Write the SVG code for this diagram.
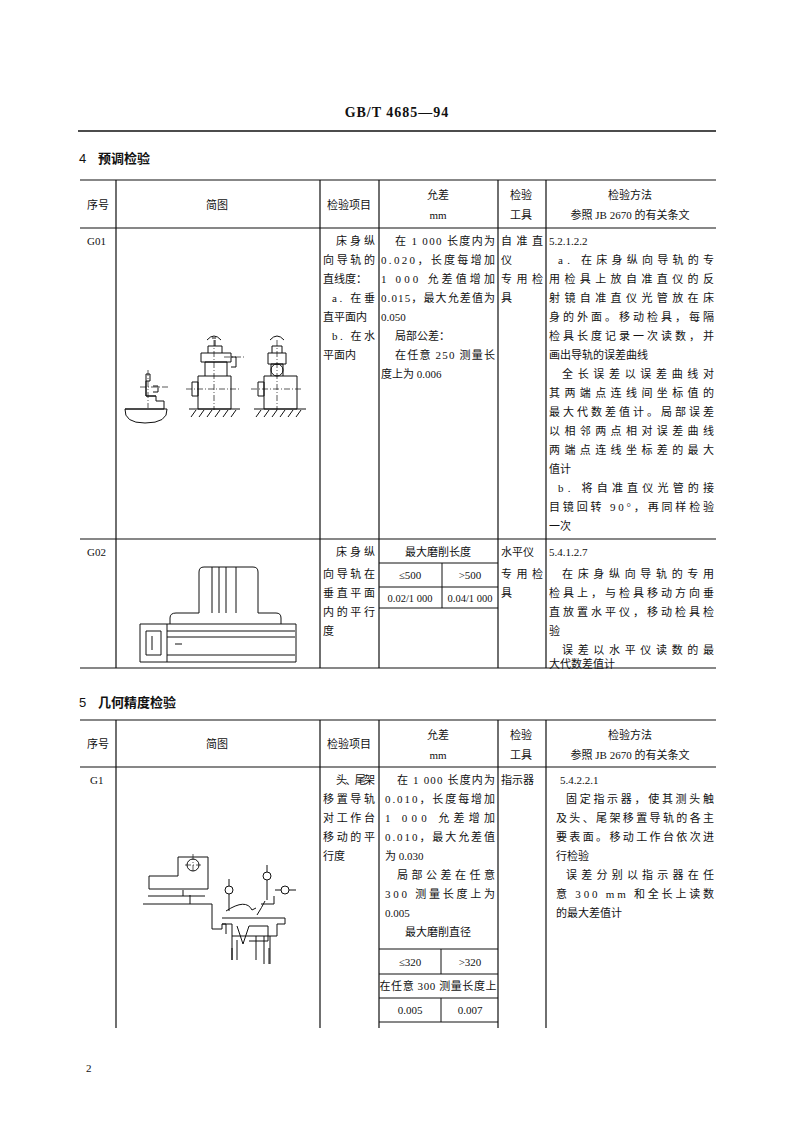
<svg xmlns="http://www.w3.org/2000/svg" width="794" height="1123" viewBox="0 0 794 1123">
<style>
text{font-family:"Liberation Serif","Noto Sans CJK SC",serif;font-size:11px;fill:#111}
.b{font-family:"Noto Sans CJK SC",sans-serif;font-weight:bold;font-size:13px}
.n{font-family:"Liberation Sans",sans-serif;font-size:13px}
.c{text-anchor:middle}
.t{stroke:#111;stroke-width:1.2;fill:none}
.d{stroke:#111;stroke-width:1;fill:none}
.dd{stroke:#111;stroke-width:0.7;fill:none;stroke-dasharray:6 2 1 2}
</style>
<rect width="794" height="1123" fill="#fff"/>
<text x="397" y="117" class="c" style="font-size:14px;font-weight:bold;letter-spacing:1px">GB/T 4685—94</text>
<path d="M78 131H716" stroke="#111" stroke-width="1.3"/>
<text x="79" y="163" class="n">4</text><text x="98" y="163" class="b">预调检验</text>
<text x="79" y="707" class="n">5</text><text x="98" y="707" class="b">几何精度检验</text>
<text x="86" y="1072">2</text>

<g id="table1">
<path class="t" d="M80 180H716M80 228H716M80 539H716M80 668H716M116 180V668M320 180V668M379 180V668M498 180V668M546 180V668"/>
<path class="d" d="M379 563H498M379 587H498M379 608H498M442 563V608"/>
<text x="98" y="209" class="c">序号</text><text x="217" y="209" class="c">简图</text><text x="349" y="209" class="c">检验项目</text>
<text x="438" y="199" class="c">允差</text><text x="438" y="219" class="c">mm</text>
<text x="521" y="199" class="c">检验</text><text x="521" y="219" class="c">工具</text>
<text x="630" y="199" class="c">检验方法</text><text x="630" y="219" class="c">参照 JB 2670 的有关条文</text>
</g>
<g id="G01">
<text x="87" y="245">G01</text>
<text x="336" y="245" textLength="39" lengthAdjust="spacing">床身纵</text>
<text x="323" y="264" textLength="52" lengthAdjust="spacing">向导轨的</text>
<text x="323" y="283">直线度：</text>
<text x="332" y="302" textLength="43" lengthAdjust="spacing">a. 在垂</text>
<text x="323" y="321">直平面内</text>
<text x="332" y="340" textLength="43" lengthAdjust="spacing">b. 在水</text>
<text x="323" y="359">平面内</text>
<text x="395" y="245" textLength="100" lengthAdjust="spacing">在 1 000 长度内为</text>
<text x="381" y="264" textLength="114" lengthAdjust="spacing">0.020，长度每增加</text>
<text x="381" y="283" textLength="114" lengthAdjust="spacing">1 000 允差值增加</text>
<text x="381" y="302" textLength="114" lengthAdjust="spacing">0.015，最大允差值为</text>
<text x="381" y="321">0.050</text>
<text x="395" y="340">局部公差：</text>
<text x="395" y="359" textLength="100" lengthAdjust="spacing">在任意 250 测量长</text>
<text x="381" y="378">度上为 0.006</text>
<text x="501" y="245" textLength="42" lengthAdjust="spacing">自准直</text>
<text x="501" y="264">仪</text>
<text x="501" y="283" textLength="42" lengthAdjust="spacing">专用检</text>
<text x="501" y="302">具</text>
<text x="549" y="245">5.2.1.2.2</text>
<text x="558" y="264" textLength="156" lengthAdjust="spacing">a. 在床身纵向导轨的专</text>
<text x="549" y="283" textLength="165" lengthAdjust="spacing">用检具上放自准直仪的反</text>
<text x="549" y="302" textLength="165" lengthAdjust="spacing">射镜自准直仪光管放在床</text>
<text x="549" y="321" textLength="165" lengthAdjust="spacing">身的外面。移动检具，每隔</text>
<text x="549" y="340" textLength="165" lengthAdjust="spacing">检具长度记录一次读数，并</text>
<text x="549" y="359">画出导轨的误差曲线</text>
<text x="562" y="378" textLength="152" lengthAdjust="spacing">全长误差以误差曲线对</text>
<text x="549" y="397" textLength="165" lengthAdjust="spacing">其两端点连线间坐标值的</text>
<text x="549" y="416" textLength="165" lengthAdjust="spacing">最大代数差值计。局部误差</text>
<text x="549" y="435" textLength="165" lengthAdjust="spacing">以相邻两点相对误差曲线</text>
<text x="549" y="454" textLength="165" lengthAdjust="spacing">两端点连线坐标差的最大</text>
<text x="549" y="473">值计</text>
<text x="558" y="492" textLength="156" lengthAdjust="spacing">b. 将自准直仪光管的接</text>
<text x="549" y="511" textLength="165" lengthAdjust="spacing">目镜回转 90°，再同样检验</text>
<text x="549" y="530">一次</text>
<g id="sketch1">
<path class="d" d="M125 409H164V401H156V396L146 396V381H150V374H146V396M146 396H156M153 386H158V392H153"/>
<path class="d" d="M125 409Q124 423 145 423Q168 423 167 409Z"/>
<path class="dd" d="M140 387H170M148 370V408"/>
<path class="d" d="M198 376H231V409H198ZM192 382H198V396H192ZM205 376V362H227V376M201 362H231V353H201ZM208 353V346H222V353M231 357H236V367H231M215 346V340"/>
<path class="dd" d="M186 389H240M214 340V410M224 357H246"/>
<path class="d" d="M189 409H240M191 417L196 410M199 417L204 410M207 417L212 410M215 417L220 410M223 417L228 410M231 417L236 410"/>
<path class="d" d="M207 340Q214 332 221 340M212 338L216 338"/>
<path class="d" d="M264 376H297V409H264ZM258 382H264V396H258ZM271 376V364H283V376M268 364H286V353H268ZM272 353V346H282V353"/>
<circle class="d" cx="277" cy="370" r="6"/>
<path class="dd" d="M251 389H303M277 340V410"/>
<path class="d" d="M254 409H306M256 417L261 410M264 417L269 410M272 417L277 410M280 417L285 410M288 417L293 410M296 417L301 410"/>
<path class="d" d="M270 340Q277 332 284 340"/>
</g>
</g>
<g id="G02">
<text x="87" y="556">G02</text>
<text x="336" y="556" textLength="39" lengthAdjust="spacing">床身纵</text>
<text x="323" y="578" textLength="52" lengthAdjust="spacing">向导轨在</text>
<text x="323" y="597" textLength="52" lengthAdjust="spacing">垂直平面</text>
<text x="323" y="616" textLength="52" lengthAdjust="spacing">内的平行</text>
<text x="323" y="635">度</text>
<text x="438" y="556" class="c">最大磨削长度</text>
<text x="410" y="579" class="c">≤500</text><text x="470" y="579" class="c">&gt;500</text>
<text x="410" y="602" class="c" style="font-size:10.5px">0.02/1 000</text><text x="470" y="602" class="c" style="font-size:10.5px">0.04/1 000</text>
<text x="501" y="556">水平仪</text>
<text x="501" y="578" textLength="42" lengthAdjust="spacing">专用检</text>
<text x="501" y="597">具</text>
<text x="549" y="556">5.4.1.2.7</text>
<text x="562" y="578" textLength="152" lengthAdjust="spacing">在床身纵向导轨的专用</text>
<text x="549" y="597" textLength="165" lengthAdjust="spacing">检具上，与检具移动方向垂</text>
<text x="549" y="616" textLength="165" lengthAdjust="spacing">直放置水平仪，移动检具检</text>
<text x="549" y="635">验</text>
<text x="562" y="654" textLength="152" lengthAdjust="spacing">误差以水平仪读数的最</text>
<text x="549" y="668">大代数差值计</text>
<g id="sketch2">
<path class="d" d="M140 624H167V662H140ZM146 631H161V655H146ZM152 636V650M167 624H296V662H167M167 631H295M167 637H295M167 655H295M175 644H182"/>
<path class="d" d="M170 624V618Q170 613 176 613H199V572Q199 567 204 567H253Q258 567 258 572V613H276Q281 613 281 618V624M212 567V613M219 567V613M226 567V613M236 567V613"/>
</g>
</g>

<g id="table2">
<path class="t" d="M80 720H716M80 767H716M116 720V1028M320 720V1028M379 720V1028M498 720V1028M546 720V1028"/>
<path class="d" d="M379 949H498M379 974H498M379 998H498M379 1022H498M441 949V974M441 998V1022"/>
<text x="98" y="748" class="c">序号</text><text x="217" y="748" class="c">简图</text><text x="349" y="748" class="c">检验项目</text>
<text x="438" y="739" class="c">允差</text><text x="438" y="759" class="c">mm</text>
<text x="521" y="739" class="c">检验</text><text x="521" y="759" class="c">工具</text>
<text x="630" y="739" class="c">检验方法</text><text x="630" y="759" class="c">参照 JB 2670 的有关条文</text>
</g>
<g id="G1">
<text x="90" y="784">G1</text>
<text x="336" y="784" textLength="39" lengthAdjust="spacing">头、尾架</text>
<text x="323" y="803" textLength="52" lengthAdjust="spacing">移置导轨</text>
<text x="323" y="822" textLength="52" lengthAdjust="spacing">对工作台</text>
<text x="323" y="841" textLength="52" lengthAdjust="spacing">移动的平</text>
<text x="323" y="860">行度</text>
<text x="397" y="784" textLength="98" lengthAdjust="spacing">在 1 000 长度内为</text>
<text x="385" y="803" textLength="110" lengthAdjust="spacing">0.010，长度每增加</text>
<text x="385" y="822" textLength="110" lengthAdjust="spacing">1 000 允差增加</text>
<text x="385" y="841" textLength="110" lengthAdjust="spacing">0.010，最大允差值</text>
<text x="385" y="860">为 0.030</text>
<text x="397" y="879" textLength="98" lengthAdjust="spacing">局部公差在任意</text>
<text x="385" y="898" textLength="110" lengthAdjust="spacing">300 测量长度上为</text>
<text x="385" y="917">0.005</text>
<text x="438" y="936" class="c">最大磨削直径</text>
<text x="410" y="966" class="c">≤320</text><text x="470" y="966" class="c">&gt;320</text>
<text x="438" y="990" class="c" textLength="117" lengthAdjust="spacing">在任意 300 测量长度上</text>
<text x="410" y="1014" class="c">0.005</text><text x="470" y="1014" class="c">0.007</text>
<text x="501" y="784">指示器</text>
<text x="560" y="784">5.4.2.2.1</text>
<text x="566" y="803" textLength="148" lengthAdjust="spacing">固定指示器，使其测头触</text>
<text x="556" y="822" textLength="158" lengthAdjust="spacing">及头、尾架移置导轨的各主</text>
<text x="556" y="841" textLength="158" lengthAdjust="spacing">要表面。移动工作台依次进</text>
<text x="556" y="860">行检验</text>
<text x="566" y="879" textLength="148" lengthAdjust="spacing">误差分别以指示器在任</text>
<text x="556" y="898" textLength="158" lengthAdjust="spacing">意 300 mm 和全长上读数</text>
<text x="556" y="917">的最大差值计</text>
<g id="sketch3">
<path class="d" d="M149 876V889H208V857H178V876ZM148 896H205M183 890V896M143 904H212V929H222V924H226V934M190 895V904"/>
<circle class="d" cx="193" cy="865" r="6"/>
<path class="dd" d="M185 865H201M193 854V873"/>
<path class="d" d="M222 918H285V924H277V936H232V924H222M237 926L243 944L249 926H268V941H249M232 936V960M237 940V960M264 936V964M270 936V964M256 936V960"/>
<path class="d" d="M226 911Q246 898 252 910L256 908M257 915Q262 907 265 901M261 904H274V896"/>
<circle class="d" cx="229" cy="890" r="4"/><path class="d" d="M229 879V886M229 894V911"/>
<circle class="d" cx="267" cy="876" r="4"/><path class="d" d="M267 865V872M267 880V900"/>
<circle class="d" cx="285" cy="890" r="4"/><path class="d" d="M275 890H281M289 890H296"/>
<path class="d" d="M232 948V960M269 948V964"/>
</g>
</g>
</svg>
